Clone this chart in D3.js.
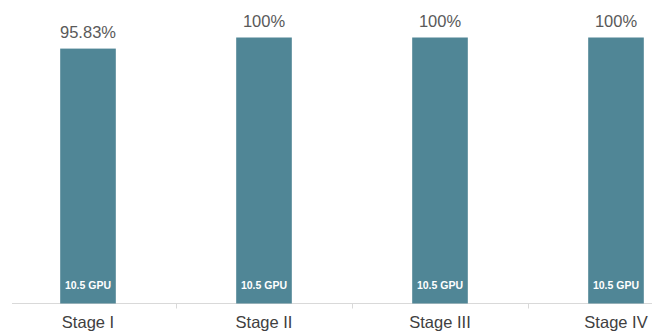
<!DOCTYPE html>
<html>
<head>
<meta charset="utf-8">
<script src="https://cdn.jsdelivr.net/npm/d3@7/dist/d3.min.js"></script>
<style>
  html, body { margin: 0; padding: 0; background: #fff; }
  svg { display: block; font-family: "Liberation Sans", Arial, sans-serif; }
</style>
</head>
<body>
<svg id="chart" width="652" height="332"></svg>
<script>
// Utilisation per stage (percent) and the GPU allotment shown inside each bar
const stages = ["Stage I", "Stage II", "Stage III", "Stage IV"];
const utilisation = [95.83, 100, 100, 100];
const gpuLabels = ["10.5 GPU", "10.5 GPU", "10.5 GPU", "10.5 GPU"];

const data = stages.map((s, i) => ({ stage: s, value: utilisation[i], gpu: gpuLabels[i] }));

const W = 652, H = 332;
const baseY = 303.5, topY = 37.5;

const svg = d3.select("#chart");

// Category slots: one per stage, the last one runs past the right edge
const slot = d3.scaleBand().domain(stages).range([0, 704]).padding(0);
const x = d3.scaleBand().domain(stages).range([0, 704])
  .paddingInner(0.684).paddingOuter(0.342);
const y = d3.scaleLinear().domain([0, 100]).range([baseY, topY]);

// Baseline
svg.append("line")
  .attr("x1", 12).attr("x2", W)
  .attr("y1", baseY).attr("y2", baseY)
  .attr("stroke", "#d9d9d9").attr("stroke-width", 1);

// Separator ticks between categories
svg.append("g").selectAll("line")
  .data(stages.slice(1))
  .join("line")
  .attr("x1", d => slot(d) + 0.5).attr("x2", d => slot(d) + 0.5)
  .attr("y1", baseY).attr("y2", baseY + 5)
  .attr("stroke", "#d9d9d9");

// Bars
svg.append("g").selectAll("rect")
  .data(data)
  .join("rect")
  .attr("x", d => x(d.stage))
  .attr("width", x.bandwidth())
  .attr("y", d => y(d.value))
  .attr("height", d => y(0) - y(d.value))
  .attr("fill", "#508696");

// Value labels above bars
svg.append("g").selectAll("text")
  .data(data)
  .join("text")
  .attr("x", d => x(d.stage) + x.bandwidth() / 2)
  .attr("y", d => y(d.value) - 11)
  .attr("text-anchor", "middle")
  .attr("font-size", 16.5)
  .attr("fill", "#595959")
  .text(d => (Math.round(d.value * 100) / 100) + "%");

// GPU labels inside bars
svg.append("g").selectAll("text")
  .data(data)
  .join("text")
  .attr("x", d => x(d.stage) + x.bandwidth() / 2)
  .attr("y", y(0) - 14.5)
  .attr("text-anchor", "middle")
  .attr("font-size", 10.5)
  .attr("font-weight", "bold")
  .attr("fill", "#ffffff")
  .text(d => d.gpu);

// Category labels
const axis = d3.axisBottom(x).tickSize(0).tickPadding(0);
const gAxis = svg.append("g").attr("transform", `translate(0,${baseY})`).call(axis);
gAxis.select(".domain").remove();
gAxis.selectAll("text")
  .attr("dy", null)
  .attr("y", 24.8)
  .attr("font-size", 16.5)
  .attr("font-family", "Liberation Sans, Arial, sans-serif")
  .attr("fill", "#404040");
</script>
</body>
</html>
